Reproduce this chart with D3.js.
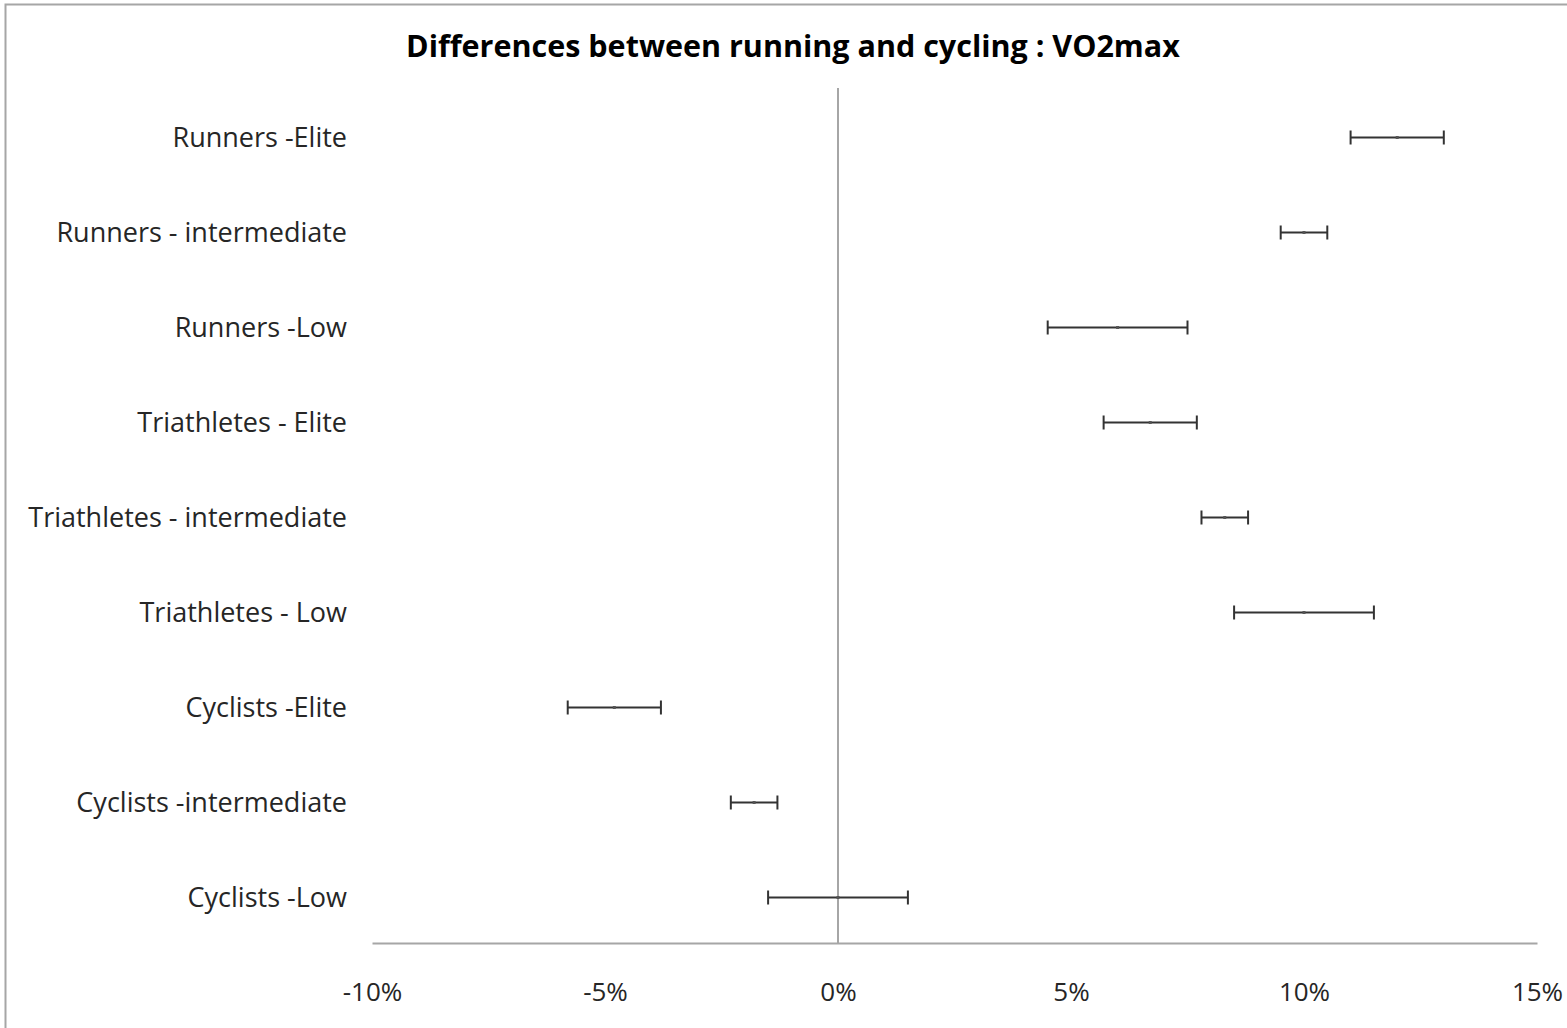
<!DOCTYPE html>
<html><head><meta charset="utf-8">
<script src="https://cdn.jsdelivr.net/npm/d3@7"></script>
<style>body{margin:0;background:#fff;}svg{display:block;}</style>
</head><body>
<script>
const categories = ["Runners -Elite","Runners - intermediate","Runners -Low","Triathletes - Elite","Triathletes - intermediate","Triathletes - Low","Cyclists -Elite","Cyclists -intermediate","Cyclists -Low"];
const lowValues  = [0.110, 0.095, 0.045, 0.057, 0.078, 0.085, -0.058, -0.023, -0.015];
const highValues = [0.130, 0.105, 0.075, 0.077, 0.088, 0.115, -0.038, -0.013, 0.015];
const meanValues = [0.120, 0.100, 0.060, 0.067, 0.083, 0.100, -0.048, -0.018, 0.000];
const xTicks = [-0.10,-0.05,0,0.05,0.10,0.15];
const title = "Differences between running and cycling : VO2max";

const W=1567,H=1028;
const svg=d3.select("body").append("svg").attr("width",W).attr("height",H);
svg.append("rect").attr("x",5.5).attr("y",4.5).attr("width",W+10).attr("height",H+10)
  .attr("fill","#fff").attr("stroke","#a6a6a6").attr("stroke-width",2);

const x=d3.scaleLinear().domain([-0.10,0.15]).range([372,1537]);
const y=d3.scaleBand().domain(categories).range([90,945]);
const font="'Open Sans', Lato, sans-serif";

svg.append("text").attr("x",793).attr("y",57).attr("text-anchor","middle")
  .attr("font-family",font).attr("font-weight","bold").attr("font-size",30.5).attr("fill","#000").text(title);

// zero line
svg.append("line").attr("x1",x(0)).attr("x2",x(0)).attr("y1",88).attr("y2",943)
  .attr("stroke","#a6a6a6").attr("stroke-width",2);

// x axis
const fmt=d=>d3.format(".0%")(d).replace("\u2212","-");
const xAxis=svg.append("g").attr("transform","translate(0,943)")
  .call(d3.axisBottom(x).tickValues(xTicks).tickFormat(fmt).tickSize(0).tickPadding(40));
xAxis.select(".domain").attr("stroke","#a6a6a6").attr("stroke-width",2);
xAxis.selectAll("text").attr("font-family",font).attr("font-size",26).attr("fill","#262626");

// category labels
svg.append("g").selectAll("text").data(categories).join("text")
  .attr("x",347).attr("y",d=>y(d)+y.bandwidth()/2).attr("dy","0.35em")
  .attr("text-anchor","end").attr("font-family",font).attr("font-size",27).attr("fill","#262626")
  .text(d=>d);

// error bars
const g=svg.append("g").selectAll("g").data(categories).join("g")
  .attr("transform",d=>`translate(0,${y(d)+y.bandwidth()/2})`);
g.append("line").attr("x1",(d,i)=>x(lowValues[i])).attr("x2",(d,i)=>x(highValues[i]))
  .attr("stroke","#333").attr("stroke-width",2);
g.append("line").attr("x1",(d,i)=>x(lowValues[i])).attr("x2",(d,i)=>x(lowValues[i]))
  .attr("y1",-7).attr("y2",7).attr("stroke","#333").attr("stroke-width",2);
g.append("line").attr("x1",(d,i)=>x(highValues[i])).attr("x2",(d,i)=>x(highValues[i]))
  .attr("y1",-7).attr("y2",7).attr("stroke","#333").attr("stroke-width",2);
g.append("rect").attr("x",(d,i)=>x(meanValues[i])-1.5).attr("y",-1.5).attr("width",3).attr("height",3)
  .attr("fill","#555");
</script>
</body></html>
